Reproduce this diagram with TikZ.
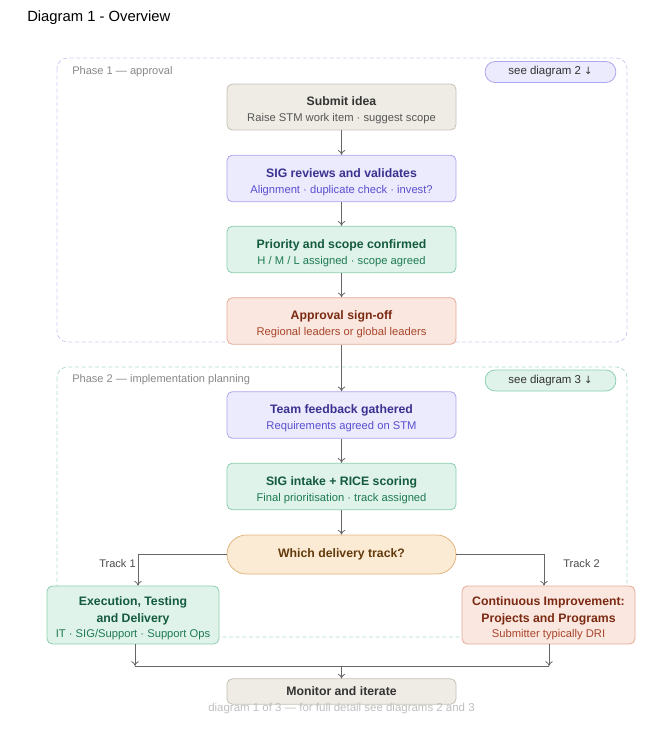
\documentclass[tikz,border=0pt]{standalone}
\usepackage{fontspec}
\setmainfont{Liberation Sans}
\newfontfamily\symfont{DejaVu Sans}
\usetikzlibrary{arrows.meta}
\definecolor{beigeF}{HTML}{EFECE5}\definecolor{beigeD}{HTML}{C6C1B7}\definecolor{beigeT}{HTML}{333333}\definecolor{beigeS}{HTML}{555555}
\definecolor{purF}{HTML}{ECEAFD}\definecolor{purD}{HTML}{ADA7EE}\definecolor{purT}{HTML}{3B3290}\definecolor{purS}{HTML}{5A4FD0}
\definecolor{grnF}{HTML}{DFF3EA}\definecolor{grnD}{HTML}{8ECFB1}\definecolor{grnT}{HTML}{145A3E}\definecolor{grnS}{HTML}{1E7A52}
\definecolor{redF}{HTML}{FAE7E0}\definecolor{redD}{HTML}{E6AB98}\definecolor{redT}{HTML}{7B2A12}\definecolor{redS}{HTML}{A9452A}
\definecolor{ornF}{HTML}{FBEBD5}\definecolor{ornD}{HTML}{E2B57D}\definecolor{ornT}{HTML}{633A0B}
\definecolor{ph1}{HTML}{CFCBF3}\definecolor{ph2}{HTML}{AEDDCB}
\definecolor{conn}{HTML}{666666}\definecolor{lbl}{HTML}{888888}
\newcommand{\ttl}[1]{{\fontsize{9.2}{11}\selectfont\bfseries #1}}
\newcommand{\sbt}[1]{{\fontsize{8.4}{10}\selectfont #1}}
\newcommand{\tstrut}{\rule{0pt}{12pt}}
\tikzset{
  card/.style={draw, rounded corners=4pt, line width=0.6pt, align=center, minimum width=171.75pt, minimum height=35pt, inner sep=2pt, font=\fontsize{9}{12}\selectfont},
  beige/.style={card, fill=beigeF, draw=beigeD, text=beigeT},
  pur/.style={card, fill=purF, draw=purD, text=purT},
  grn/.style={card, fill=grnF, draw=grnD, text=grnT},
  red/.style={card, fill=redF, draw=redD, text=redT},
  phase/.style={dashed, dash pattern=on 3pt off 2pt, line width=0.6pt, rounded corners=8pt},
  pill/.style={draw, rounded corners=7.5pt, line width=0.6pt, minimum width=98pt, minimum height=15.75pt, inner sep=1pt, font=\fontsize{8.6}{9}\selectfont, text=black!80},
  arr/.style={draw=conn, line width=0.6pt, -{To[length=3.5pt,width=5.5pt]}},
  ln/.style={draw=conn, line width=0.6pt},
  plabel/.style={anchor=west, text=lbl, font=\fontsize{8.3}{9}\selectfont, inner sep=0pt},
}
\begin{document}
\begin{tikzpicture}[x=0.75pt,y=-0.75pt]
\useasboundingbox (0,0) rectangle (668,730);
\node[anchor=west, inner sep=0pt, font=\fontsize{11.1}{13}\selectfont] (title) at (27,18) {Diagram 1 - Overview};
% phases
\draw[phase, draw=ph1] (57,58) rectangle (627,342);
\draw[phase, draw=ph2] (57,367) rectangle (627,637);
\node[plabel] (p1) at (72,72) {Phase 1 — approval};
\node[plabel] (p2) at (72,380) {Phase 2 — implementation planning};
\node[pill, fill=purF, draw=purD] (pill1) at (550.5,72) {see diagram 2 {\symfont\fontsize{7.5}{9}\selectfont ↓}};
\node[pill, fill=grnF, draw=grnD] (pill2) at (550.5,380.5) {see diagram 3 {\symfont\fontsize{7.5}{9}\selectfont ↓}};
% nodes
\node[beige, minimum height=34.5pt] (submit) at (341.5,107) {\tstrut\ttl{Submit idea}\\\color{beigeS}\sbt{Raise STM work item · suggest scope}};
\node[pur] (sig) at (341.5,178.5) {\tstrut\ttl{SIG reviews and validates}\\\color{purS}\sbt{Alignment · duplicate check · invest?}};
\node[grn] (prio) at (341.5,249.5) {\tstrut\ttl{Priority and scope confirmed}\\\color{grnS}\sbt{H / M / L assigned · scope agreed}};
\node[red] (appr) at (341.5,321) {\tstrut\ttl{Approval sign-off}\\\color{redS}\sbt{Regional leaders or global leaders}};
\node[pur] (team) at (341.5,415) {\tstrut\ttl{Team feedback gathered}\\\color{purS}\sbt{Requirements agreed on STM}};
\node[grn] (rice) at (341.5,486.5) {\tstrut\ttl{SIG intake + RICE scoring}\\\color{grnS}\sbt{Final prioritisation · track assigned}};
\node[draw, fill=ornF, draw=ornD, text=ornT, line width=0.6pt, rounded corners=14.5pt, minimum width=171.75pt, minimum height=29.25pt, inner sep=1pt] (dec) at (341.5,554.5) {\ttl{Which delivery track?}};
\node[grn, minimum width=129pt, minimum height=43.5pt, inner sep=1pt, font=\fontsize{9}{12.5}\selectfont] (exec) at (133,615) {\tstrut\ttl{Execution, Testing}\\\ttl{and Delivery}\\[-1pt]\color{grnS}\sbt{IT · SIG/Support · Support Ops}};
\node[red, minimum width=129.75pt, minimum height=43.5pt, inner sep=1pt, font=\fontsize{9}{12.5}\selectfont] (ci) at (548.5,615) {\tstrut\ttl{Continuous Improvement:}\\\ttl{Projects and Programs}\\[-1pt]\color{redS}\sbt{Submitter typically DRI}};
\node[beige, minimum height=19pt] (mon) at (341.5,691.5) {\ttl{Monitor and iterate}};
\node[inner sep=0pt, text=black!25, font=\fontsize{8.6}{9}\selectfont] (foot) at (341.5,709) {diagram 1 of 3 — for full detail see diagrams 2 and 3};
% connectors
\draw[arr] (submit) -- (sig);
\draw[arr] (sig) -- (prio);
\draw[arr] (prio) -- (appr);
\draw[arr] (appr) -- (team);
\draw[arr] (team) -- (rice);
\draw[arr] (rice) -- (dec);
\coordinate (l1) at (138,554.5);
\coordinate (r1) at (544,554.5);
\draw[arr] (dec.west) -- (l1) -- (l1 |- exec.north);
\draw[arr] (dec.east) -- (r1) -- (r1 |- ci.north);
\node[anchor=east, inner sep=0pt, text=black!70, font=\fontsize{8.3}{9}\selectfont] (t1) at (136,564) {Track 1};
\node[anchor=west, inner sep=0pt, text=black!70, font=\fontsize{8.3}{9}\selectfont] (t2) at (563,564) {Track 2};
\coordinate (ml) at (135,666);
\coordinate (mr) at (549,666);
\coordinate (mm) at (341.5,666);
\draw[arr] (ml |- exec.south) -- (ml);
\draw[arr] (mr |- ci.south) -- (mr);
\draw[ln] (ml) -- (mr);
\draw[arr] (mm) -- (mon);
\end{tikzpicture}
\end{document}
